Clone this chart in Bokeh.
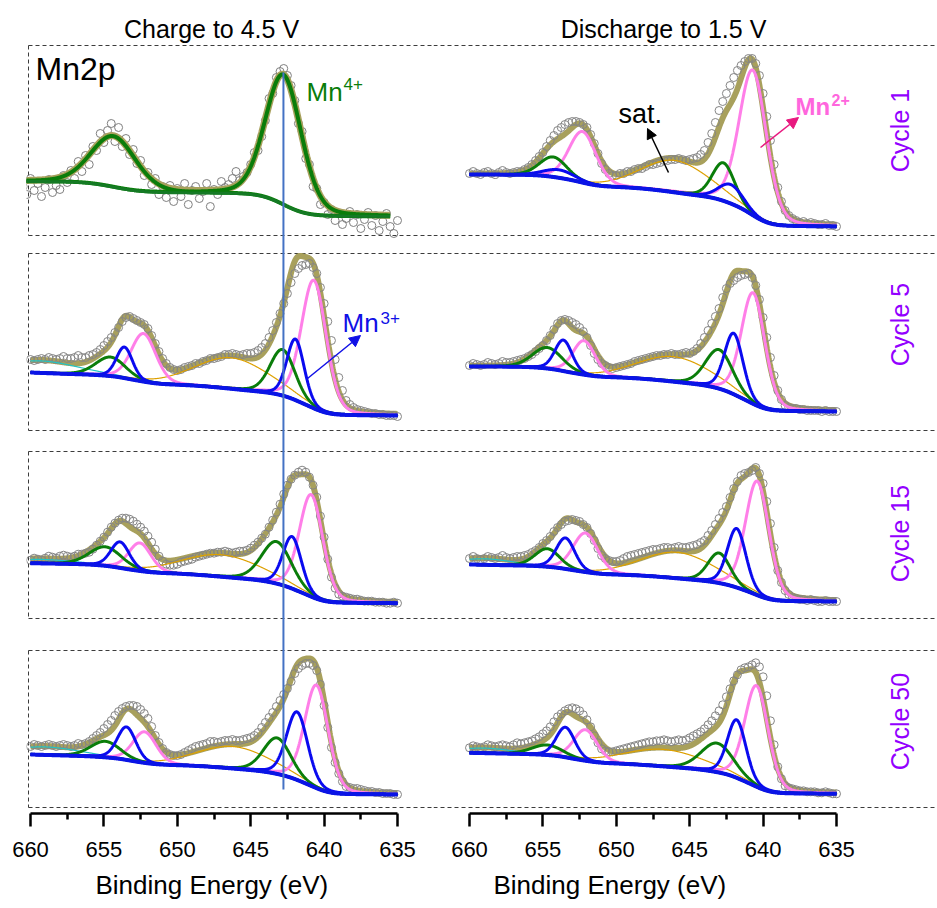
import numpy as np
from bokeh.plotting import figure
from bokeh.models import Range1d, FixedTicker, Label, Arrow, NormalHead, Title
from bokeh.layouts import row
from bokeh.embed import file_html
from bokeh.resources import INLINE

# ======================= DATA =======================
COLUMN_TITLES = ["Charge to 4.5 V", "Discharge to 1.5 V"]
CYCLES = ["Cycle 1", "Cycle 5", "Cycle 15", "Cycle 50"]
X_TICKS = [660, 655, 650, 645, 640, 635]
X_MINOR = [657.5, 652.5, 647.5, 642.5, 637.5]
X_LABEL = "Binding Energy (eV)"

# raw Mn2p spectra, intensity in a.u. (0 = background level at 635 eV), 0.25 eV steps
RAW_C1_START = 660.5
RAW_C1 = [30, 22, 38, 26, 33, 20, 29, 37, 24, 31, 27,
          41, 34, 46, 38, 55, 45, 61, 52, 70, 66, 83, 74,
          86, 93, 75, 89, 70, 78, 62, 67, 53, 56, 41, 44,
          32, 38, 22, 30, 19, 31, 15, 28, 20, 33, 12, 26,
          30, 18, 25, 33, 10, 27, 22, 35, 29, 32, 38, 45,
          36, 40, 44, 52, 64, 66, 80, 96, 118, 123, 139, 145,
          148, 141, 131, 116, 93, 85, 58, 52, 30, 28, 12, 14,
          2, 7, -4, 3, -8, -2, 5, -6, 2, -12, -3, 4,
          -9, 1, -14, -5, 3, -10, -17, -4]
RAW_START = 660.0
RAW_STEP = 0.25
RAW_C5 = [56, 55, 56, 57, 56, 58, 57, 56, 57, 59, 57, 57, 58, 60, 58, 58,
          60, 61, 63, 66, 70, 74, 78, 83, 88, 94, 98, 99, 97, 95, 93, 91,
          87, 80, 72, 64, 57, 52, 48, 46, 45, 46, 48, 49, 50, 52, 52, 54,
          55, 57, 57, 58, 59, 61, 61, 62, 61, 60, 61, 62, 62, 63, 65, 68,
          72, 78, 85, 93, 102, 112, 122, 133, 142, 147, 150, 151, 152, 148, 142, 128,
          112, 94, 75, 56, 38, 25, 15, 11, 8, 6, 5, 4, 3, 2, 2, 1,
          1, 0, 0, 0, -1]
RAW_C15 = [43, 45, 44, 43, 45, 47, 46, 45, 47, 48, 47, 46, 47, 49, 49, 50,
           51, 54, 58, 62, 66, 71, 76, 80, 83, 85, 85, 84, 82, 79, 76, 72,
           67, 61, 54, 47, 42, 39, 38, 38, 39, 41, 42, 43, 44, 46, 47, 48,
           49, 50, 50, 51, 51, 52, 51, 50, 51, 52, 52, 53, 55, 58, 61, 65,
           69, 76, 83, 91, 99, 109, 118, 124, 128, 131, 133, 131, 126, 118, 106, 87,
           66, 44, 26, 15, 9, 7, 6, 5, 4, 4, 3, 2, 2, 2, 1, 1,
           1, 0, 0, 1, 0]
RAW_C50 = [48, 50, 49, 48, 49, 50, 49, 48, 49, 50, 49, 48, 49, 51, 50, 51,
           53, 56, 59, 62, 66, 70, 74, 79, 83, 86, 88, 89, 89, 88, 85, 81,
           76, 68, 59, 52, 46, 42, 40, 39, 39, 40, 42, 44, 46, 48, 49, 50,
           51, 53, 53, 52, 53, 54, 54, 55, 54, 54, 55, 56, 57, 59, 62, 67,
           72, 77, 82, 88, 94, 100, 106, 113, 121, 126, 129, 131, 131, 129, 124, 110,
           89, 67, 47, 32, 21, 13, 8, 7, 6, 6, 5, 4, 3, 3, 2, 2,
           1, 1, 1, 0, 0]
RAW_D1 = [53, 55, 53, 52, 54, 55, 53, 52, 54, 56, 54, 53, 54, 55, 55, 57,
          59, 62, 66, 70, 74, 80, 86, 91, 96, 99, 102, 104, 105, 105, 104, 102,
          99, 92, 83, 73, 63, 57, 53, 51, 51, 53, 53, 55, 55, 57, 58, 58,
          60, 62, 62, 63, 64, 66, 66, 67, 67, 68, 67, 66, 67, 68, 69, 72,
          76, 84, 93, 104, 116, 125, 133, 141, 149, 156, 161, 165, 168, 168, 163, 151,
          133, 110, 86, 62, 39, 25, 16, 11, 8, 6, 4, 5, 3, 4, 3, 2,
          2, 3, 1, 1, 0]
RAW_D5 = [46, 48, 47, 46, 47, 49, 48, 47, 48, 50, 49, 49, 50, 51, 52, 53,
          55, 57, 60, 63, 66, 71, 76, 82, 88, 91, 92, 91, 89, 87, 84, 80,
          74, 66, 58, 52, 48, 46, 44, 43, 44, 45, 46, 47, 48, 50, 51, 52,
          53, 54, 55, 56, 56, 57, 57, 58, 57, 57, 58, 59, 58, 60, 63, 68,
          74, 81, 88, 95, 103, 114, 123, 128, 131, 134, 136, 137, 138, 134, 126, 112,
          94, 74, 54, 36, 21, 12, 6, 4, 3, 3, 2, 2, 1, 1, 1, 1,
          0, 1, 0, 0, 0]
RAW_D15 = [43, 45, 43, 42, 43, 45, 44, 43, 44, 46, 44, 43, 44, 45, 45, 46,
           47, 49, 51, 54, 58, 61, 65, 70, 74, 77, 80, 81, 82, 81, 80, 77,
           74, 68, 61, 53, 46, 43, 41, 40, 40, 41, 43, 45, 46, 47, 48, 49,
           50, 51, 52, 52, 53, 54, 54, 53, 54, 55, 54, 54, 55, 56, 57, 59,
           61, 66, 71, 77, 83, 89, 95, 104, 113, 120, 126, 128, 129, 131, 134, 128,
           118, 100, 78, 54, 31, 19, 11, 7, 4, 3, 2, 2, 1, 2, 1, 0,
           0, 1, 0, 0, 0]
RAW_D50 = [46, 48, 47, 46, 47, 49, 48, 47, 48, 49, 48, 47, 49, 51, 50, 51,
           52, 53, 55, 57, 60, 63, 67, 72, 77, 80, 83, 85, 86, 85, 83, 79,
           74, 67, 58, 51, 45, 43, 42, 42, 43, 44, 45, 46, 47, 48, 49, 50,
           51, 52, 52, 53, 53, 54, 53, 52, 53, 54, 53, 54, 56, 58, 60, 62,
           65, 69, 73, 78, 83, 89, 97, 105, 113, 119, 124, 126, 127, 129, 131, 127,
           117, 98, 73, 49, 27, 15, 8, 6, 5, 4, 3, 3, 2, 2, 2, 1,
           1, 2, 1, 0, 0]

# fitted components: (species, centre eV, height a.u., FWHM eV)
FIT_C1 = [("Mn4+", 642.77, 130, 2.9), ("Mn4+", 654.35, 51, 3.6)]
FIT_C5 = [("Mn2+", 640.70, 128, 2.0), ("Mn3+", 641.95, 61, 1.4), ("Mn4+", 642.83, 46, 2.0),
          ("sat", 646.3, 31, 6.0), ("Mn4+", 654.55, 19, 2.4), ("Mn3+", 653.6, 31, 1.3),
          ("Mn2+", 652.3, 48, 2.0), ("sat2", 659.3, 12, 6.0)]
FIT_C15 = [("Mn2+", 640.88, 102, 1.9), ("Mn3+", 642.18, 52, 1.5), ("Mn4+", 643.24, 42, 2.4),
           ("sat", 647.0, 22, 6.5), ("Mn4+", 654.9, 19, 2.6), ("Mn3+", 653.9, 26, 1.5),
           ("Mn2+", 652.55, 28, 1.8), ("sat2", 659.5, 4, 6.0)]
FIT_C50 = [("Mn2+", 640.52, 103, 1.9), ("Mn3+", 641.84, 68, 1.7), ("Mn4+", 643.2, 36, 2.2),
           ("sat", 646.2, 22, 6.0), ("Mn4+", 654.9, 16, 2.4), ("Mn3+", 653.46, 33, 1.5),
           ("Mn2+", 652.23, 31, 1.9), ("sat2", 659.0, 8, 5.5)]
FIT_D1 = [("Mn2+", 640.70, 145, 2.2), ("Mn4+", 642.7, 38, 1.8), ("Mn3+", 642.2, 19, 2.0),
          ("sat", 646.0, 32, 5.5), ("Mn4+", 654.3, 20, 2.2), ("Mn3+", 653.9, 8, 2.5),
          ("Mn2+", 652.3, 51, 2.2)]
FIT_D5 = [("Mn2+", 640.68, 111, 1.9), ("Mn3+", 642.0, 61, 1.5), ("Mn4+", 643.0, 39, 2.2),
          ("sat", 646.1, 25, 6.0), ("Mn4+", 654.7, 21, 2.4), ("Mn3+", 653.6, 31, 1.4),
          ("Mn2+", 652.2, 34, 1.8)]
FIT_D15 = [("Mn2+", 640.4, 114, 1.9), ("Mn3+", 641.8, 59, 1.5), ("Mn4+", 643.0, 30, 1.8),
           ("sat", 645.85, 26, 6.0), ("Mn4+", 654.7, 18, 2.0), ("Mn3+", 653.46, 31, 1.5),
           ("Mn2+", 652.1, 39, 2.0), ("sat2", 659.0, 6, 4.5)]
FIT_D50 = [("Mn2+", 640.45, 101, 1.9), ("Mn3+", 641.8, 58, 1.5), ("Mn4+", 643.13, 29, 2.6),
           ("sat", 646.8, 17, 6.5), ("Mn4+", 654.7, 10, 2.5), ("Mn3+", 653.46, 30, 1.5),
           ("Mn2+", 652.1, 31, 1.9), ("sat2", 659.0, 5, 4.5)]

# Shirley background height at 660 eV (a.u.)
BG_C = [35, 43, 40, 40]
BG_D = [52, 45, 37, 41]
MN4_REF_EV = 642.77

# ======================= LAYOUT / STYLE =======================
FONT = "Liberation Sans"
SCALE = 14.68            # px per eV
AX_L, AX_R = 30, 469     # page px of 660 eV in each column
SPLIT = 433              # page px where the right figure starts
W_TOTAL, H_TOTAL = 937, 908
FRAME_BOTTOM = 813
BASE_C = [216, 415, 602.7, 794]     # screen y of the zero level of each panel
BASE_D = [226, 411, 601, 793.3]
H_DASH = [45, 235, 253, 430, 451, 618, 650, 807]
BOXES = [(45, 235), (253, 430), (451, 618), (650, 807)]
CYCLE_Y = [130, 324, 533, 721]

COL = {"Mn4+": "#0A7D0A", "Mn3+": "#0A0AEF", "Mn2+": "#FF7FE8",
       "sat": "#DDA000", "sat2": "#22C4C4"}
LW = {"Mn4+": 3, "Mn3+": 3, "Mn2+": 3, "sat": 1.2, "sat2": 1.2}
ORDER = ["sat2", "sat", "Mn2+", "Mn4+", "Mn3+"]
OLIVE = "#A8A05C"
BG_BLUE = "#0A14E6"
VIOLET = "#9300FF"


def sy(py):
    return FRAME_BOTTOM - py


def pvoigt(E, c, h, w, eta=0.2):
    x = (E - c) / w
    return h * ((1 - eta) * np.exp(-4 * np.log(2) * x * x) + eta / (1 + 4 * x * x))


def fit_model(peaks, bg_top):
    g = np.arange(634.0, 661.0 + 1e-9, 0.02)
    comps = [(sp, pvoigt(g, c, h, w)) for sp, c, h, w in peaks]
    tot = np.sum([c for _, c in comps], axis=0)
    cum = np.concatenate([[0.0], np.cumsum(0.5 * (tot[1:] + tot[:-1]) * np.diff(g))])
    bg = bg_top * cum / np.interp(660.0, g, cum)
    return g, bg, comps, bg + tot


def new_fig(width, border_left, e_start, e_end, xlabel_offset):
    p = figure(width=width, height=H_TOTAL, output_backend="svg", toolbar_location=None,
               x_range=Range1d(e_start, e_end), y_range=Range1d(0, FRAME_BOTTOM),
               y_axis_location=None, min_border=0, min_border_left=border_left,
               min_border_right=0, min_border_top=0, min_border_bottom=H_TOTAL - FRAME_BOTTOM)
    p.outline_line_color = None
    p.grid.visible = False
    p.background_fill_color = "white"
    p.border_fill_color = "white"
    ax = p.xaxis[0]
    ax.bounds = (635, 660)
    ax.ticker = FixedTicker(ticks=X_TICKS, minor_ticks=X_MINOR)
    ax.axis_line_width = 2.5
    ax.major_tick_line_width = 2.5
    ax.minor_tick_line_width = 2.5
    ax.major_tick_in = 0
    ax.major_tick_out = 13
    ax.minor_tick_in = 0
    ax.minor_tick_out = 6
    ax.major_label_text_font = FONT
    ax.major_label_text_font_size = "22px"
    ax.major_label_text_color = "black"
    ax.major_label_standoff = 15
    p.add_layout(Title(text=X_LABEL, align="left", offset=xlabel_offset, text_font=FONT,
                       text_font_size="26px", text_font_style="normal", text_color="black",
                       standoff=16), "below")
    return p


def draw_panel(p, raw, r_start, peaks, bg_top, base_y, e_lo, e_hi, single=False):
    yo = FRAME_BOTTOM - base_y
    g, bg, comps, env = fit_model(peaks, bg_top)
    m = (g >= e_lo - 1e-9) & (g <= e_hi + 1e-9)
    x = g[m]
    er = r_start - RAW_STEP * np.arange(len(raw))
    ry = yo + np.array(raw, dtype=float)
    if single:
        p.scatter(er, ry, marker="circle", size=8, fill_color=None,
                  line_color="#7F7F7F", line_width=1)
        p.line(x, yo + env[m], line_color=OLIVE, line_width=7)
        for sp, c in comps:
            p.line(x, yo + bg[m] + c[m], line_color=COL[sp], line_width=4)
        p.line(x, yo + bg[m], line_color="#157A25", line_width=3)
    else:
        p.line(x, yo + env[m], line_color=OLIVE, line_width=6)
        p.scatter(er, ry, marker="circle", size=8, fill_color=None,
                  line_color="#858585", line_width=1)
        for kind in ORDER:
            for sp, c in comps:
                if sp == kind:
                    p.line(x, yo + bg[m] + c[m], line_color=COL[sp], line_width=LW[sp])
        p.line(x, yo + bg[m], line_color=BG_BLUE, line_width=4)


def label(p, x, y, text, size, color="black", align="left", style="normal", angle=0.0):
    p.add_layout(Label(x=x, y=y, text=text, text_font=FONT, text_font_size=size,
                       text_color=color, text_align=align, text_baseline="middle",
                       text_font_style=style, angle=angle))


# ---------------- left figure (charge) ----------------
pl = new_fig(SPLIT, 26, 660 + (AX_L - 26) / SCALE, 660 - (SPLIT - AX_L) / SCALE, 95 - 26)
exl = lambda px: 660 - (px - AX_L) / SCALE

for y in H_DASH:
    pl.segment(x0=exl(28), x1=exl(SPLIT), y0=sy(y), y1=sy(y), line_color="#3C3C3C",
               line_width=1, line_dash="4 3")
for t, b in BOXES:
    pl.segment(x0=exl(28), x1=exl(28), y0=sy(t), y1=sy(b), line_color="#3C3C3C",
               line_width=1, line_dash="4 3")

draw_panel(pl, RAW_C1, RAW_C1_START, FIT_C1, BG_C[0], BASE_C[0], 635.5, 660.5, single=True)
draw_panel(pl, RAW_C5, RAW_START, FIT_C5, BG_C[1], BASE_C[1], 635, 660)
draw_panel(pl, RAW_C15, RAW_START, FIT_C15, BG_C[2], BASE_C[2], 635, 660)
draw_panel(pl, RAW_C50, RAW_START, FIT_C50, BG_C[3], BASE_C[3], 635, 660)

pl.segment(x0=MN4_REF_EV, x1=MN4_REF_EV, y0=sy(789), y1=sy(72), line_color="#4472C4", line_width=2)

label(pl, exl(211), sy(28), COLUMN_TITLES[0], "25px", align="center")
label(pl, exl(35), sy(68.5), "Mn2p", "32px")
label(pl, exl(306), sy(91), "Mn", "26px", color=COL["Mn4+"])
label(pl, exl(343), sy(83), "4+", "17px", color=COL["Mn4+"])
label(pl, exl(342), sy(322.5), "Mn", "26px", color="#1010E6")
label(pl, exl(380), sy(317), "3+", "17px", color="#1010E6")
pl.add_layout(Arrow(x_start=exl(307), y_start=sy(378), x_end=exl(360), y_end=sy(335),
                    line_color="#1010E6", line_width=1.5,
                    end=NormalHead(size=11, fill_color="#1010E6", line_color="#1010E6")))

# ---------------- right figure (discharge) ----------------
wr = W_TOTAL - SPLIT
pr = new_fig(wr, 0, 660 + (AX_R - SPLIT) / SCALE, 660 - (W_TOTAL - AX_R) / SCALE, 493 - SPLIT)
exr = lambda px: 660 - (px - AX_R) / SCALE

for y in H_DASH:
    pr.segment(x0=exr(SPLIT), x1=exr(W_TOTAL), y0=sy(y), y1=sy(y), line_color="#3C3C3C",
               line_width=1, line_dash="4 3")

draw_panel(pr, RAW_D1, RAW_START, FIT_D1, BG_D[0], BASE_D[0], 635, 660)
draw_panel(pr, RAW_D5, RAW_START, FIT_D5, BG_D[1], BASE_D[1], 635, 660)
draw_panel(pr, RAW_D15, RAW_START, FIT_D15, BG_D[2], BASE_D[2], 635, 660)
draw_panel(pr, RAW_D50, RAW_START, FIT_D50, BG_D[3], BASE_D[3], 635, 660)

label(pr, exr(663), sy(28), COLUMN_TITLES[1], "25px", align="center")
for lab, yy in zip(CYCLES, CYCLE_Y):
    label(pr, exr(899), sy(yy), lab, "25px", color=VIOLET, align="center", angle=np.pi / 2)
label(pr, exr(618), sy(113), "sat.", "27px")
pr.add_layout(Arrow(x_start=exr(668), y_start=sy(172), x_end=exr(647), y_end=sy(128),
                    line_color="black", line_width=1.5,
                    end=NormalHead(size=10, fill_color="black", line_color="black")))
label(pr, exr(795), sy(106), "Mn", "24px", color="#FF66DD", style="bold")
label(pr, exr(831), sy(99.5), "2+", "16px", color="#FF66DD", style="bold")
pr.add_layout(Arrow(x_start=exr(760), y_start=sy(147), x_end=exr(798), y_end=sy(117),
                    line_color="#E8197F", line_width=1.5,
                    end=NormalHead(size=11, fill_color="#E8197F", line_color="#E8197F")))

layout = row(pl, pr)
open("out.html", "w").write(file_html(layout, INLINE))
